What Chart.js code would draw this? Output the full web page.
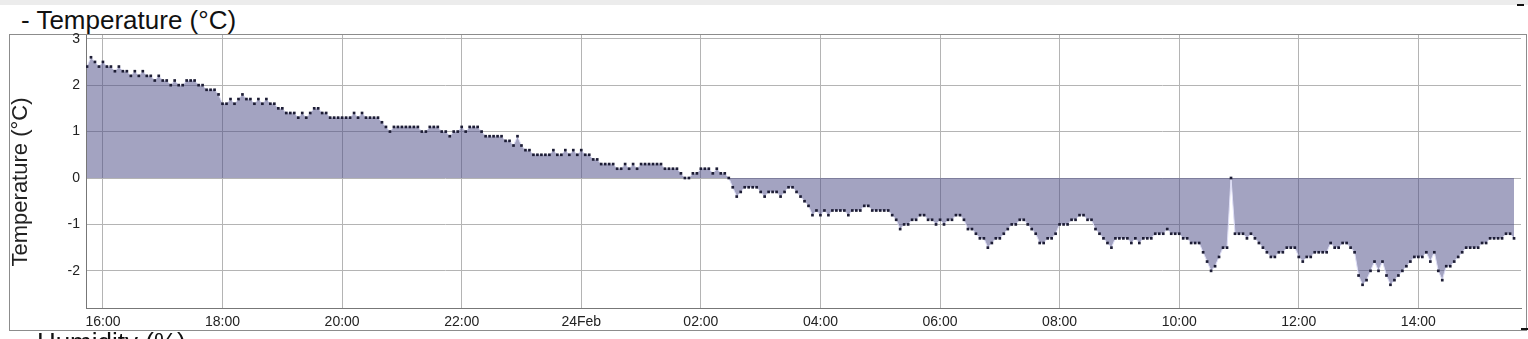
<!DOCTYPE html>
<html>
<head>
<meta charset="utf-8">
<title>Temperature</title>
<script src="https://cdn.jsdelivr.net/npm/chart.js"></script>
<style>
  body { margin: 0; width: 1528px; height: 339px; overflow: hidden; position: relative; background: #fff; font-family: Arial, "Liberation Sans", sans-serif; }
  .band { position: absolute; left: 0; top: 0; width: 1528px; height: 5px; background: #ececec; }
  .heading { position: absolute; left: 21px; font-size: 26px; line-height: 26px; color: #111; white-space: nowrap; }
  .box { position: absolute; left: 9px; top: 34px; width: 1516px; height: 295px; border: 1px solid #8c8c8c; }
  .dash { position: absolute; height: 2px; width: 7px; background: #111; }
  #tempChart { position: absolute; left: 0; top: 0; }
</style>
</head>
<body>
<div class="band"></div>
<div class="heading" style="top:7px">- Temperature (°C)</div>
<div class="box"></div>
<div class="dash" style="left:1517px; top:4px"></div>
<div class="dash" style="left:1521px; top:328px"></div>
<canvas id="tempChart" width="1528" height="339"></canvas>
<div class="heading" style="top:329px">- Humidity (%)</div>
<script>
// readings every 4 minutes, starting 23 Feb 15:44 (x = minutes from 23 Feb 00:00)
const startMinute = 944;
const stepMinutes = 4;
const temperatures = [
  2.4, 2.6, 2.5, 2.4, 2.5, 2.4, 2.4, 2.3, 2.4, 2.3, 2.3, 2.2, 2.3, 2.2, 2.3,
  2.2, 2.2, 2.1, 2.2, 2.1, 2.1, 2.0, 2.1, 2.0, 2.0, 2.1, 2.1, 2.1, 2.0, 2.0,
  1.9, 1.9, 1.9, 1.8, 1.6, 1.6, 1.7, 1.6, 1.7, 1.8, 1.7, 1.7, 1.6, 1.7, 1.6,
  1.7, 1.6, 1.6, 1.5, 1.5, 1.4, 1.4, 1.4, 1.3, 1.4, 1.3, 1.4, 1.5, 1.5, 1.4,
  1.4, 1.3, 1.3, 1.3, 1.3, 1.3, 1.3, 1.4, 1.3, 1.4, 1.3, 1.3, 1.3, 1.3, 1.2,
  1.1, 1.0, 1.1, 1.1, 1.1, 1.1, 1.1, 1.1, 1.1, 1.0, 1.0, 1.1, 1.1, 1.1, 1.0,
  1.0, 0.9, 1.0, 1.0, 1.1, 1.0, 1.1, 1.1, 1.1, 1.0, 0.9, 0.9, 0.9, 0.9, 0.9,
  0.8, 0.8, 0.7, 0.9, 0.7, 0.6, 0.6, 0.5, 0.5, 0.5, 0.5, 0.5, 0.6, 0.5, 0.5,
  0.6, 0.5, 0.6, 0.5, 0.6, 0.5, 0.5, 0.4, 0.4, 0.3, 0.3, 0.3, 0.3, 0.2, 0.2,
  0.3, 0.2, 0.3, 0.2, 0.3, 0.3, 0.3, 0.3, 0.3, 0.3, 0.2, 0.2, 0.2, 0.2, 0.1,
  0.0, 0.0, 0.1, 0.1, 0.2, 0.2, 0.2, 0.1, 0.2, 0.1, 0.1, 0.0, -0.2, -0.4, -0.3,
  -0.2, -0.2, -0.2, -0.2, -0.3, -0.4, -0.3, -0.3, -0.3, -0.4, -0.3, -0.2, -0.2, -0.3, -0.4,
  -0.5, -0.6, -0.8, -0.7, -0.8, -0.7, -0.8, -0.7, -0.7, -0.7, -0.7, -0.8, -0.7, -0.7, -0.7,
  -0.6, -0.6, -0.7, -0.7, -0.7, -0.7, -0.7, -0.8, -0.9, -1.1, -1.0, -1.0, -0.9, -0.9, -0.8,
  -0.8, -0.9, -0.9, -1.0, -0.9, -1.0, -0.9, -0.9, -0.8, -0.8, -0.9, -1.1, -1.1, -1.2, -1.3,
  -1.3, -1.5, -1.4, -1.3, -1.3, -1.2, -1.1, -1.0, -1.0, -0.9, -0.9, -1.0, -1.1, -1.2, -1.4,
  -1.4, -1.3, -1.3, -1.2, -1.0, -1.0, -1.0, -0.9, -0.9, -0.8, -0.8, -0.9, -0.9, -1.1, -1.2,
  -1.3, -1.4, -1.5, -1.3, -1.3, -1.3, -1.3, -1.4, -1.3, -1.4, -1.3, -1.3, -1.3, -1.2, -1.2,
  -1.2, -1.1, -1.2, -1.2, -1.2, -1.3, -1.3, -1.4, -1.4, -1.4, -1.6, -1.8, -2.0, -1.9, -1.7,
  -1.5, -1.5, 0.0, -1.2, -1.2, -1.2, -1.3, -1.2, -1.3, -1.4, -1.5, -1.6, -1.7, -1.7, -1.6,
  -1.6, -1.5, -1.5, -1.5, -1.7, -1.8, -1.7, -1.7, -1.6, -1.6, -1.6, -1.6, -1.4, -1.5, -1.5,
  -1.4, -1.4, -1.5, -1.6, -2.1, -2.3, -2.2, -2.0, -1.8, -2.0, -1.8, -2.1, -2.3, -2.2, -2.1,
  -2.0, -1.9, -1.8, -1.7, -1.7, -1.7, -1.6, -1.8, -1.6, -2.0, -2.2, -1.9, -1.9, -1.8, -1.7,
  -1.6, -1.5, -1.5, -1.5, -1.5, -1.4, -1.4, -1.3, -1.3, -1.3, -1.3, -1.2, -1.2, -1.3
];
const xTickMinutes = [960, 1080, 1200, 1320, 1440, 1560, 1680, 1800, 1920, 2040, 2160, 2280];
const xTickLabels = ['16:00', '18:00', '20:00', '22:00', '24Feb', '02:00', '04:00', '06:00', '08:00', '10:00', '12:00', '14:00'];
const yTickValues = [-2, -1, 0, 1, 2, 3];
const xRange = [943, 2383];
const yRange = [-2.8, 3.08];
const yTitle = 'Temperature (°C)';

Chart.defaults.font.family = 'Arial, "Liberation Sans", sans-serif';

const points = temperatures.map((v, i) => ({ x: startMinute + i * stepMinutes, y: v }));

// y-axis title, centred on the outer frame rather than the plot
const yTitlePlugin = {
  id: 'yTitle',
  afterDraw(chart) {
    const ctx = chart.ctx;
    ctx.save();
    ctx.translate(21, 182);
    ctx.rotate(-Math.PI / 2);
    ctx.font = '22px Arial, "Liberation Sans", sans-serif';
    ctx.fillStyle = '#222';
    ctx.textAlign = 'center';
    ctx.textBaseline = 'middle';
    ctx.fillText(yTitle, 0, 0);
    ctx.restore();
  }
};

new Chart(document.getElementById('tempChart').getContext('2d'), {
  type: 'line',
  data: {
    datasets: [{
      data: points,
      fill: 'origin',
      backgroundColor: 'rgba(72, 72, 132, 0.5)',
      borderColor: 'rgba(222, 222, 246, 1)',
      borderWidth: 1,
      pointStyle: 'rect',
      pointRadius: 1.9,
      pointBorderWidth: 0,
      pointBackgroundColor: '#1d1d35',
      tension: 0
    }]
  },
  options: {
    responsive: false,
    animation: false,
    layout: { padding: { left: 0, right: 7, top: 35, bottom: 9 } },
    plugins: { legend: { display: false }, tooltip: { enabled: false } },
    scales: {
      x: {
        type: 'linear',
        min: xRange[0],
        max: xRange[1],
        afterBuildTicks: (s) => { s.ticks = xTickMinutes.map(v => ({ value: v })); },
        afterFit: (s) => { s.height = 22; },
        ticks: {
          autoSkip: false,
          maxRotation: 0,
          padding: 6,
          color: '#222',
          font: { size: 14 },
          callback: (v) => xTickLabels[xTickMinutes.indexOf(v)]
        },
        grid: { color: '#b4b4b4', drawTicks: false },
        border: { color: '#777' }
      },
      y: {
        min: yRange[0],
        max: yRange[1],
        afterBuildTicks: (s) => { s.ticks = yTickValues.map(v => ({ value: v })); },
        afterFit: (s) => { s.width = 86; },
        ticks: { padding: 6, color: '#222', font: { size: 14 } },
        grid: { color: '#b4b4b4', drawTicks: false },
        border: { color: '#777' }
      }
    }
  },
  plugins: [yTitlePlugin]
});
</script>
</body>
</html>
